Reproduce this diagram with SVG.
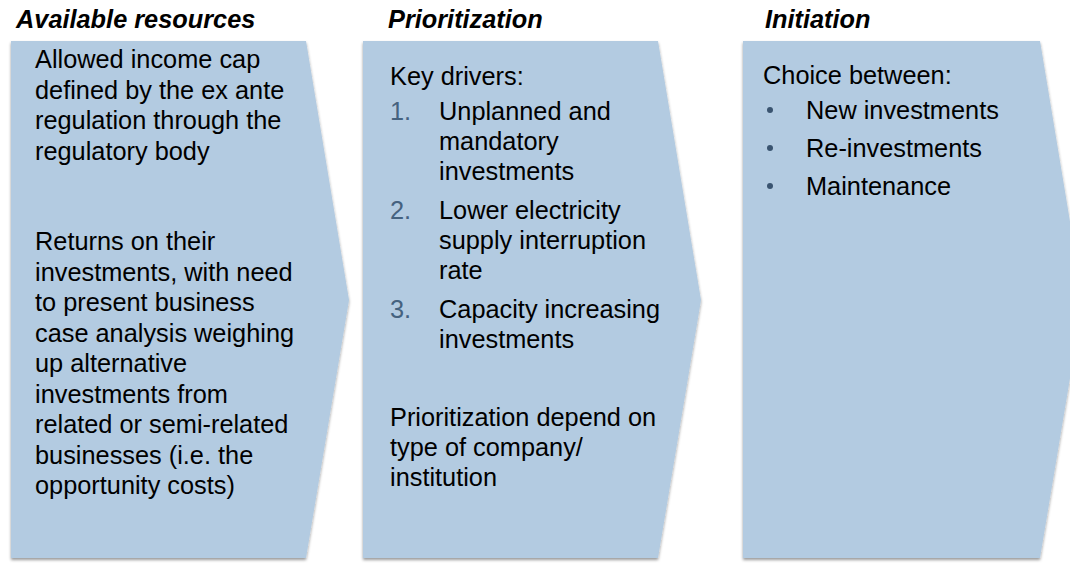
<svg xmlns="http://www.w3.org/2000/svg" width="1070" height="563" viewBox="0 0 1070 563">
<defs>
<filter id="sh" x="-5%" y="-5%" width="110%" height="110%">
<feDropShadow dx="0" dy="2" stdDeviation="1.6" flood-color="#000" flood-opacity="0.4"/>
</filter>
<style>
.panel{fill:#B3CBE1;filter:url(#sh)}
.title{font-family:"Liberation Sans",Arial,sans-serif;font-size:25.33px;font-weight:bold;font-style:italic;fill:#000}
.t{font-family:"Liberation Sans",Arial,sans-serif;font-size:25.33px;fill:#000}
.num{font-family:"Liberation Sans",Arial,sans-serif;font-size:25.33px;fill:#45627F}
.dot{fill:#3A5470}
</style>
</defs>
<rect width="1070" height="563" fill="#fff"/>
<g id="node-available">
<polygon class="panel" points="11,41 306,41 349,300 306,558 11,558"/>
<text class="title" x="16" y="28">Available resources</text>
<text class="t" x="35" y="68">Allowed income cap</text>
<text class="t" x="35" y="98.5">defined by the ex ante</text>
<text class="t" x="35" y="129">regulation through the</text>
<text class="t" x="35" y="159.5">regulatory body</text>
<text class="t" x="35" y="250">Returns on their</text>
<text class="t" x="35" y="280.5">investments, with need</text>
<text class="t" x="35" y="311">to present business</text>
<text class="t" x="35" y="341.5">case analysis weighing</text>
<text class="t" x="35" y="372">up alternative</text>
<text class="t" x="35" y="402.5">investments from</text>
<text class="t" x="35" y="433">related or semi-related</text>
<text class="t" x="35" y="463.5">businesses (i.e. the</text>
<text class="t" x="35" y="494">opportunity costs)</text>
</g>
<g id="node-prioritization">
<polygon class="panel" points="363,41 658,41 701,300 658,558 363,558"/>
<text class="title" x="388" y="28">Prioritization</text>
<text class="t" x="390" y="85">Key drivers:</text>
<text class="num" x="390" y="120">1.</text>
<text class="t" x="439" y="120">Unplanned and</text>
<text class="t" x="439" y="150">mandatory</text>
<text class="t" x="439" y="180">investments</text>
<text class="num" x="390" y="219">2.</text>
<text class="t" x="439" y="219">Lower electricity</text>
<text class="t" x="439" y="249">supply interruption</text>
<text class="t" x="439" y="279">rate</text>
<text class="num" x="390" y="318">3.</text>
<text class="t" x="439" y="318">Capacity increasing</text>
<text class="t" x="439" y="348">investments</text>
<text class="t" x="390" y="426">Prioritization depend on</text>
<text class="t" x="390" y="456">type of company/</text>
<text class="t" x="390" y="486">institution</text>
</g>
<g id="node-initiation">
<polygon class="panel" points="743,41 1040,41 1083,300 1040,558 743,558"/>
<text class="title" x="765" y="28">Initiation</text>
<text class="t" x="763" y="84">Choice between:</text>
<circle class="dot" cx="770" cy="110" r="3"/>
<text class="t" x="806" y="119">New investments</text>
<circle class="dot" cx="770" cy="148" r="3"/>
<text class="t" x="806" y="157">Re-investments</text>
<circle class="dot" cx="770" cy="186" r="3"/>
<text class="t" x="806" y="195">Maintenance</text>
</g>
<g id="connectors"></g>
</svg>
